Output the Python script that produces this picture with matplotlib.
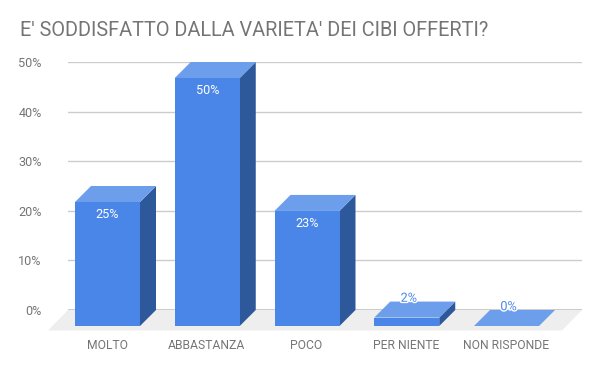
import matplotlib
matplotlib.use("Agg")
import matplotlib.pyplot as plt
from matplotlib.patches import Polygon
import matplotlib.patheffects as pe

title = "E' SODDISFATTO DALLA VARIETA' DEI CIBI OFFERTI?"
categories = ["MOLTO", "ABBASTANZA", "POCO", "PER NIENTE", "NON RISPONDE"]
values = [25, 50, 23.2, 1.7, 0]
labels = ["25%", "50%", "23%", "2%", "0%"]
yticks = [0, 10, 20, 30, 40, 50]

W, H = 600, 371
PX_X = 99.75        # pixels per category
PX_Y = 4.96         # pixels per percentage point
dx, dy = 16 / PX_X, 16 / PX_Y   # depth of the 3D bars
fx, fy = 20 / PX_X, 20.5 / PX_Y # depth of the floor
bw = 65 / PX_X
FRONT, TOP, SIDE = "#4a86e8", "#6d9eeb", "#2d5899"
GREY = "#757575"

plt.rcParams["font.family"] = ["Roboto", "DejaVu Sans"]
fig = plt.figure(figsize=(W / 100, H / 100), dpi=100)
L, R, T, B = 68, 582, 62, 310
ax = fig.add_axes([L / W, 1 - B / H, (R - L) / W, (B - T) / H])
ax.set_xlim((L - 123.5) / PX_X, (R - 123.5) / PX_X)
ax.set_ylim(0, 50)
for s in ax.spines.values():
    s.set_visible(False)

ax.set_yticks(yticks)
ax.set_yticklabels([f"{v}%" for v in yticks], fontsize=9.1, color=GREY)
ax.tick_params(axis="y", length=0, pad=19)
ax.set_xticks([i - dx - 0.005 for i in range(len(categories))])
ax.set_xticklabels(categories, fontsize=8.7, color=GREY)
ax.tick_params(axis="x", length=0, pad=20.8)
ax.grid(axis="y", color="#cccccc", lw=1, zorder=0)
ax.set_axisbelow(True)

x0, x1 = ax.get_xlim()
ax.add_patch(Polygon([(x0, 0), (x1, 0), (x1 - fx, -fy), (x0 - fx, -fy)],
                     closed=True, fc="#eeeeee", ec="none", zorder=1, clip_on=False))
ax.axhline(0, color="#222222", lw=1, zorder=1.5)

for i, (v, lab) in enumerate(zip(values, labels)):
    # back rectangle spans [xa, xb]; front is offset by (-dx, -dy)
    xa, xb = i - bw / 2, i + bw / 2
    ax.add_patch(Polygon([(xb, v), (xb, 0), (xb - dx, -dy), (xb - dx, v - dy)],
                         closed=True, fc=SIDE, ec="none", zorder=2, clip_on=False))
    ax.add_patch(Polygon([(xa - dx, -dy), (xb - dx, -dy), (xb - dx, v - dy), (xa - dx, v - dy)],
                         closed=True, fc=FRONT, ec="none", zorder=3, clip_on=False))
    ax.add_patch(Polygon([(xa, v), (xb, v), (xb - dx, v - dy), (xa - dx, v - dy)],
                         closed=True, fc=TOP, ec="none", zorder=4, clip_on=False))
    if v > 10:
        ax.annotate(lab, (i - dx, v - dy), xytext=(0, -9), textcoords="offset points",
                    ha="center", va="center", fontsize=9.1, color="white", zorder=6)
    else:
        ax.annotate(lab, (i - dx + 0.02, v), xytext=(0, 2.4), textcoords="offset points",
                    ha="center", va="center", fontsize=9.1, color=FRONT, zorder=6,
                    path_effects=[pe.withStroke(linewidth=2, foreground="white")])

fig.text(20 / W, 1 - 31 / H, title, fontsize=14.3, color=GREY, ha="left", va="center")
fig.savefig("out.png", dpi=100, facecolor="white")
